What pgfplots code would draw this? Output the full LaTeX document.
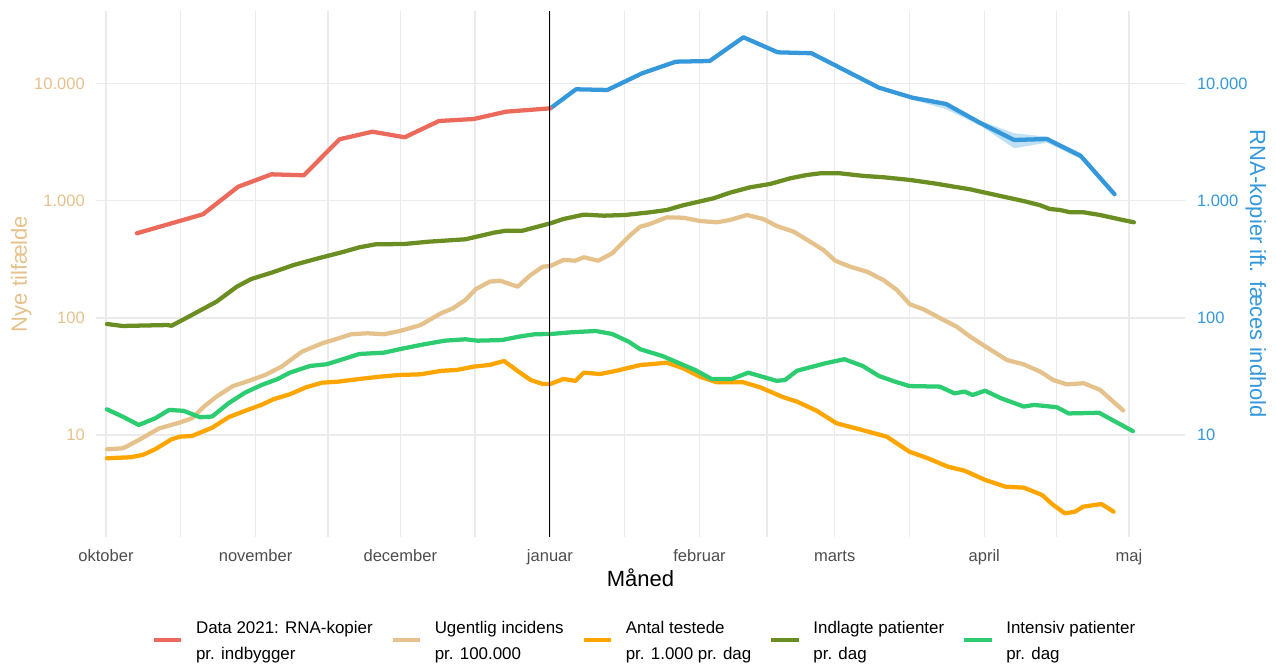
\documentclass[border=0pt]{standalone}
\usepackage{fontspec}
\setmainfont{Liberation Sans}
\usepackage{pgfplots}
\pgfplotsset{compat=1.18}
\definecolor{cred}{HTML}{EC6A5C}
\definecolor{ctan}{HTML}{E5C18C}
\definecolor{corange}{HTML}{FFA500}
\definecolor{colive}{HTML}{6B8E23}
\definecolor{cgreen}{HTML}{2ECC71}
\definecolor{cblue}{HTML}{3498DB}
\definecolor{gridc}{RGB}{235,235,235}
\definecolor{labgray}{HTML}{4D4D4D}
\begin{document}
\begin{tikzpicture}
\path[use as bounding box] (-72pt,-95.25pt) rectangle (885pt,402.75pt);
\begin{axis}[
  at={(0,0)}, anchor=south west,
  scale only axis, width=816.75pt, height=394.5pt,
  xmin=-2.07, xmax=223.6,
  ymode=log, ymin=1.35, ymax=41550,
  xtick={0,31,61,92,123,151,182,212},
  xticklabels={oktober,november,december,januar,februar,marts,april,maj},
  minor xtick={15.5,46,76.5,107.5,137,166.5,197},
  ytick={10,100,1000,10000},
  yticklabels={10,100,1.000,10.000},
  xmajorgrids, xminorgrids, ymajorgrids,
  grid style={color=gridc, line width=1pt},
  major grid style={color=gridc, line width=1pt},
  minor grid style={color=gridc, line width=1pt},
  axis line style={draw=none},
  major tick length=0pt, minor tick length=0pt,
  tick style={draw=none},
  xticklabel style={font=\fontsize{12.4}{14}\selectfont, text=labgray, anchor=base, inner sep=0pt, yshift=-18.5pt},
  yticklabel style={font=\fontsize{12.4}{14}\selectfont, text=ctan, anchor=east, inner sep=0pt, xshift=-8.25pt},
  xlabel={Måned},
  every axis x label/.style={font=\fontsize{16.5}{18}\selectfont, text=black, at={([yshift=-36.75pt]axis description cs:0.5,0)}, anchor=base},
  ylabel={Nye tilfælde},
  every axis y label/.style={font=\fontsize{16.5}{18}\selectfont, text=ctan, at={([xshift=-51.75pt]axis description cs:0,0.5)}, anchor=base, rotate=90},
  legend columns=5,
  legend image code/.code={\draw[#1, line width=3.6pt, line cap=butt] (0pt,0.75pt) -- (20.6pt,0.75pt);},
  legend style={at={([yshift=-60.75pt]axis description cs:0.5027,0)}, anchor=north, draw=none, fill=none,
    font=\fontsize{12.7}{19.5}\selectfont, text=black, cells={align=left}, nodes={inner sep=0pt},
    /tikz/every even column/.append style={column sep=13.2pt},
    /tikz/every odd column/.append style={column sep=9.15pt}},
  every axis plot/.append style={line width=3.2pt, line join=round, line cap=round},
]
% ribbon around RNA series
\addplot[forget plot, draw=none, fill=cblue, fill opacity=0.3, line width=0pt] coordinates {
(153,13040) (160.2,9390) (167.1,7820) (174.1,6950) (181.3,4786) (188.2,3758) (195,3516) (202,2553) (209,1156)
(209,1112) (202,2268) (195,3126) (188.2,2800) (181.3,4339) (174.1,6026) (167.1,7296) (160.2,9030) (153,13040)} -- cycle;
% RNA 2022 (blue)
\addplot[forget plot, cblue] coordinates {
(92.1,6142) (97.4,8923) (103.9,8803) (111.1,12220) (118.1,15350) (125.1,15560) (132.1,24790) (139.2,18450) (146.2,18120) (153.0,13040) (160.2,9205) (167.1,7568) (174.1,6683) (181.3,4574) (188.2,3295) (195.0,3360) (202.0,2406) (209.0,1135)};
% Data 2021 (red)
\addplot[cred] coordinates {
(6.4,527) (20.1,766) (27.4,1316) (34.3,1679) (41.0,1647) (48.4,3342) (55.2,3879) (61.9,3475) (69.0,4786) (76.2,4977) (82.9,5747) (92.1,6142)};
\addlegendentry{Data 2021: RNA-kopier\\pr. indbygger}
% Ugentlig incidens (tan)
\addplot[ctan] coordinates {
(0.2,7.57) (3.4,7.71) (4.2,7.96) (6.8,9.08) (11.0,11.4) (15.3,12.8) (17.8,13.9) (20.3,17.5) (22.9,21.3) (26.3,26.2) (29.6,29.0) (33.0,32.6) (36.4,38.4) (40.6,51.5) (44.8,60.7) (48.2,67.0) (50.8,72.5) (54.2,73.9) (57.6,72.5) (60.9,77.3) (65.2,86.9) (69.4,109.3) (71.9,120.7) (74.5,142.2) (76.6,175.4) (79.5,203.7) (81.7,207.6) (85.3,184.5) (88.0,232.3) (90.5,273.4) (92.1,277.3) (94.8,312) (97.3,307.7) (99.0,328.9) (102.0,307.7) (104.9,355.6) (108.3,493) (110.7,600) (112.7,632) (116.2,721) (119.6,716) (123.1,671) (126.6,654) (129.3,684) (132.8,755) (136.2,698) (139.0,608) (142.5,544) (145.9,447) (148.7,379) (151.1,307.7) (154.2,273.4) (157.7,247.8) (161.1,210.4) (163.9,172.9) (166.6,130.6) (169.4,118.4) (172.9,99.2) (176.3,84.1) (179.1,69.1) (182.5,56.1) (186.7,43.7) (190.1,40.2) (193.6,34.8) (196.3,29.5) (199.1,27.1) (202.6,27.7) (206.0,24.3) (210.8,16.2)};
\addlegendentry{Ugentlig incidens\\pr. 100.000}
% Antal testede (orange)
\addplot[corange] coordinates {
(0.2,6.34) (5.1,6.47) (7.6,6.77) (10.2,7.57) (13.6,9.21) (15.3,9.69) (17.8,9.82) (22.0,11.55) (25.4,14.2) (28.8,16.1) (32.2,18.1) (34.7,20.2) (38.1,22.3) (41.5,25.6) (44.8,28.0) (48.2,28.6) (52.5,30.1) (56.7,31.5) (60.9,32.6) (65.2,33.0) (69.4,35.3) (72.8,36.0) (76.2,38.4) (79.5,39.7) (82.5,42.9) (85.5,34.8) (88.0,29.5) (90.5,27.3) (92.1,27.3) (94.8,30.1) (97.3,29.0) (99.0,34.1) (102.4,33.2) (105.8,35.4) (110.7,39.6) (112.7,40.2) (116.2,41.5) (119.6,37.2) (123.1,31.5) (126.6,28.2) (132.1,28.2) (135.5,25.6) (140.4,21.0) (143.2,19.3) (147.3,16.1) (151.4,12.6) (157.6,10.8) (161.8,9.69) (166.5,7.21) (170.3,6.34) (174.5,5.37) (177.9,4.97) (182.2,4.14) (186.4,3.63) (190.2,3.56) (194.0,3.08) (196.1,2.57) (198.7,2.15) (200.8,2.22) (202.5,2.45) (206.3,2.58) (208.8,2.22)};
\addlegendentry{Antal testede\\pr. 1.000 pr. dag}
% Indlagte patienter (olive)
\addplot[colive] coordinates {
(0.2,88.7) (3.4,85.3) (12.7,86.9) (13.6,85.7) (17.8,105.9) (22.9,137.5) (27.1,184.5) (30.1,214.7) (34.3,243) (38.9,282.7) (44.0,322.5) (49.1,365) (52.5,400) (55.9,424.5) (61.8,427) (66.9,447) (74.5,468.5) (80.4,533.7) (82.9,554.6) (86.3,554.6) (92.1,641) (94.8,698) (99.0,760) (103.2,745) (107.5,755) (112.7,796) (116.2,833) (119.6,914) (125.9,1048) (129.3,1170) (133.5,1301) (137.6,1388) (141.8,1553) (145.2,1656) (148.0,1713) (152.1,1713) (157.0,1626) (161.1,1585) (166.6,1503) (171.5,1407) (174.9,1334) (179.1,1250) (181.8,1180) (186.0,1082) (190.1,994) (193.6,914) (195.6,849) (197.7,833) (199.8,796) (202.6,796) (206.0,755) (210.1,693) (213.0,654)};
\addlegendentry{Indlagte patienter\\pr. dag}
% Intensiv patienter (green)
\addplot[cgreen] coordinates {
(0.2,16.6) (3.4,14.4) (6.8,12.2) (10.2,13.9) (13.1,16.4) (16.1,16.1) (19.5,14.2) (22.0,14.4) (25.4,18.7) (28.8,23.0) (32.2,26.7) (35.6,30.1) (38.1,34.1) (42.3,38.9) (45.7,40.2) (49.1,44.4) (52.5,49.2) (57.6,50.5) (61.8,55.1) (66.0,59.6) (70.2,63.9) (74.5,65.7) (77.0,63.9) (82.1,64.7) (85.5,69.1) (88.8,72.5) (92.1,72.9) (96.5,75.4) (101.5,77.3) (104.9,72.9) (108.3,62.7) (110.7,54.0) (115.3,47.3) (122.1,35.9) (125.5,30.1) (129.7,30.1) (133.1,34.1) (139.0,29.0) (140.7,29.5) (143.2,35.4) (149.1,41.0) (153.0,44.4) (156.8,38.9) (160.2,31.9) (163.5,28.6) (166.5,26.2) (172.8,25.9) (175.8,22.7) (177.9,23.5) (179.6,22.0) (182.2,23.9) (185.5,20.6) (190.2,17.5) (192.3,18.1) (197.0,17.3) (199.5,15.3) (205.8,15.5) (209.2,13.0) (212.8,10.8)};
\addlegendentry{Intensiv patienter\\pr. dag}
% vertical reference line at januar
\addplot[forget plot, black, line width=0.8pt, line cap=butt] coordinates {(92,1.35) (92,41550)};
\end{axis}
\begin{axis}[
  at={(0,0)}, anchor=south west,
  scale only axis, width=816.75pt, height=394.5pt,
  xmin=-2.07, xmax=223.6,
  ymode=log, ymin=1.35, ymax=41550,
  ytick={10,100,1000,10000},
  yticklabels={10,100,1.000,10.000},
  yticklabel pos=right,
  hide x axis,
  axis line style={draw=none},
  major tick length=0pt, minor tick length=0pt,
  tick style={draw=none},
  yticklabel style={font=\fontsize{12.4}{14}\selectfont, text=cblue, anchor=west, inner sep=0pt, xshift=8.8pt},
  ylabel={RNA-kopier ift. fæces indhold},
  every axis y label/.style={font=\fontsize{16.5}{18}\selectfont, text=cblue, at={([xshift=48.75pt]axis description cs:1,0.5)}, anchor=base, rotate=-90},
]
\end{axis}
\end{tikzpicture}
\end{document}
